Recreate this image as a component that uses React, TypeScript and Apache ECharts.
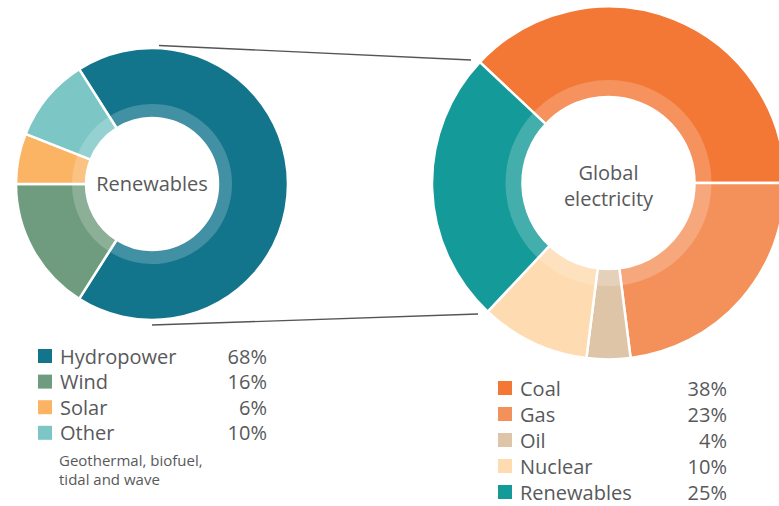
import React, { useEffect, useRef } from "react";
import * as echarts from "echarts";

const renewCategories = ["Hydropower", "Wind", "Solar", "Other"];
const renewValues = [68, 16, 6, 10];
const renewColors = ["#13758C", "#6F9C7E", "#FBB464", "#7CC6C6"];
const renewNote = ["Geothermal, biofuel,", "tidal and wave"];

const elecCategories = ["Coal", "Gas", "Oil", "Nuclear", "Renewables"];
const elecValues = [38, 23, 4, 10, 25];
const elecColors = ["#F37735", "#F4915A", "#DFC5A8", "#FEDBB0", "#149A98"];

const FONT = "'Open Sans', 'Noto Sans', sans-serif";
const TEXT = "#58595B";

function legend(
  names: string[],
  values: number[],
  colors: string[],
  x0: number,
  y0: number,
  step: number,
  xRight: number
) {
  const els: any[] = [];
  names.forEach((n, i) => {
    const y = y0 + i * step;
    els.push({
      type: "rect",
      shape: { x: x0, y: y - 7, width: 14, height: 14 },
      style: { fill: colors[i] },
    });
    els.push({
      type: "text",
      x: x0 + 22,
      y,
      style: { text: n, fill: TEXT, font: `20px ${FONT}`, textAlign: "left", textVerticalAlign: "middle" },
    });
    els.push({
      type: "text",
      x: xRight,
      y,
      style: { text: values[i] + "%", fill: TEXT, font: `20px ${FONT}`, textAlign: "right", textVerticalAlign: "middle" },
    });
  });
  return els;
}

export default function App() {
  const ref = useRef<HTMLDivElement>(null);
  useEffect(() => {
    document.body.style.margin = "0";
    const chart = echarts.init(ref.current!, undefined, { renderer: "svg" });
    const mk = (names: string[], values: number[], colors: string[]) =>
      names.map((n, i) => ({ name: n, value: values[i], itemStyle: { color: colors[i] } }));
    const overlay = (names: string[], values: number[]) =>
      names.map((n, i) => ({ name: n, value: values[i] }));
    const base = {
      type: "pie",
      clockwise: true,
      label: { show: false },
      labelLine: { show: false },
      silent: true,
      avoidLabelOverlap: false,
      itemStyle: { borderColor: "#fff", borderWidth: 2.5 },
    };
    const ov = { color: "rgba(255,255,255,0.2)", borderWidth: 0 };
    chart.setOption({
      animation: false,
      series: [
        { ...base, center: [152, 184], radius: [66, 136], startAngle: 122.4, data: mk(renewCategories, renewValues, renewColors) },
        {
          ...base,
          center: [152, 184],
          radius: [66, 80],
          startAngle: 122.4,
          z: 3,
          itemStyle: ov,
          data: overlay(renewCategories, renewValues),
        },
        { ...base, center: [608.5, 183], radius: [86, 176.5], startAngle: 136.8, data: mk(elecCategories, elecValues, elecColors) },
        {
          ...base,
          center: [608.5, 183],
          radius: [86, 103],
          startAngle: 136.8,
          z: 3,
          itemStyle: ov,
          data: overlay(elecCategories, elecValues),
        },
      ],
      graphic: [
        { type: "line", shape: { x1: 159, y1: 45.5, x2: 471, y2: 60 }, style: { stroke: "#555", lineWidth: 1.3 } },
        { type: "line", shape: { x1: 152, y1: 325, x2: 478, y2: 314 }, style: { stroke: "#555", lineWidth: 1.3 } },
        {
          type: "text",
          x: 152,
          y: 183,
          style: { text: "Renewables", fill: TEXT, font: `20px ${FONT}`, textAlign: "center", textVerticalAlign: "middle" },
        },
        {
          type: "text",
          x: 608.5,
          y: 172,
          style: { text: "Global", fill: TEXT, font: `20px ${FONT}`, textAlign: "center", textVerticalAlign: "middle" },
        },
        {
          type: "text",
          x: 608.5,
          y: 198,
          style: { text: "electricity", fill: TEXT, font: `20px ${FONT}`, textAlign: "center", textVerticalAlign: "middle" },
        },
        ...legend(renewCategories, renewValues, renewColors, 38, 356, 25.6, 267),
        ...renewNote.map((t, i) => ({
          type: "text",
          x: 59,
          y: 460 + i * 18.5,
          style: { text: t, fill: TEXT, font: `15px ${FONT}`, textAlign: "left", textVerticalAlign: "middle" },
        })),
        ...legend(elecCategories, elecValues, elecColors, 498, 388, 26, 727),
      ],
    });
    return () => chart.dispose();
  }, []);
  return <div ref={ref} style={{ width: 779, height: 506 }} />;
}
